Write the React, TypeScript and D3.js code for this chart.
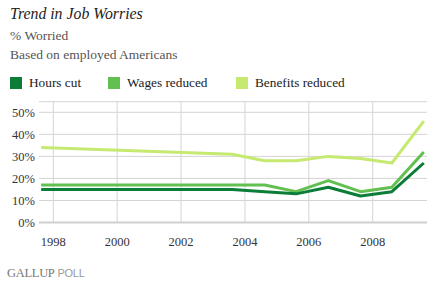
import * as d3 from "d3";

const pollDates = [1997.62, 2003.6, 2004.62, 2005.6, 2006.61, 2007.62, 2008.6, 2009.6];
const hoursCut = [15, 15, 14, 13, 16, 12, 14, 27];
const wagesReduced = [17, 17, 17, 14, 19, 14, 16, 32];
const benefitsReduced = [34, 31, 28, 28, 30, 29, 27, 46];
const yTickValues = [0, 10, 20, 30, 40, 50];
const xTickYears = [1998, 2000, 2002, 2004, 2006, 2008];

const W = 434;
const H = 284;
const PLOT = { left: 39, right: 427, top: 101.7, bottom: 222.5 };

const SERIES = [
  { name: "Hours cut", values: hoursCut, color: "#0b7d38", lx: 10 },
  { name: "Wages reduced", values: wagesReduced, color: "#62c050", lx: 108 },
  { name: "Benefits reduced", values: benefitsReduced, color: "#c6e970", lx: 236 },
];

const serif = "'Liberation Serif', 'DejaVu Serif', serif";

export default function App() {
  const x = d3.scaleLinear().domain([1998, 2008]).range([53.3, 372.7]);
  const y = d3.scaleLinear().domain([0, 50]).range([PLOT.bottom, 112.3]);

  const line = d3
    .line<number>()
    .x((_, i) => x(pollDates[i]))
    .y((d) => y(d));

  return (
    <svg
      width={W}
      height={H}
      style={{ position: "absolute", left: 0, top: 0, background: "#fff" }}
      fontFamily={serif}
    >
      <text x={10} y={19} fontSize={15.8} fontStyle="italic" fill="#222">
        Trend in Job Worries
      </text>
      <text x={10} y={40} fontSize={13.5} fill="#555">
        % Worried
      </text>
      <text x={10} y={59} fontSize={13.5} fill="#555">
        Based on employed Americans
      </text>

      {SERIES.map((s) => (
        <g key={s.name}>
          <rect x={s.lx} y={77} width={12} height={12} fill={s.color} />
          <text x={s.lx + 19} y={86.5} fontSize={13.3} fill="#222">
            {s.name}
          </text>
        </g>
      ))}

      {/* grid */}
      <line x1={PLOT.left} x2={PLOT.right} y1={PLOT.top} y2={PLOT.top} stroke="#d4d4d4" />
      {yTickValues.slice(1).map((t) => (
        <line key={t} x1={PLOT.left} x2={PLOT.right} y1={y(t)} y2={y(t)} stroke="#d4d4d4" />
      ))}
      {xTickYears.map((t) => (
        <line key={t} x1={x(t)} x2={x(t)} y1={PLOT.top} y2={PLOT.bottom} stroke="#d4d4d4" />
      ))}
      <line x1={PLOT.left} x2={PLOT.right} y1={PLOT.bottom} y2={PLOT.bottom} stroke="#cfcfcf" strokeWidth={2} />

      {yTickValues.map((t) => (
        <text key={t} x={35} y={y(t)} dy="0.35em" textAnchor="end" fontSize={12.5} fill="#333">
          {t}%
        </text>
      ))}
      {xTickYears.map((t) => (
        <text key={t} x={x(t)} y={246} textAnchor="middle" fontSize={12.5} fill="#333">
          {t}
        </text>
      ))}

      {[...SERIES].reverse().map((s) => (
        <path
          key={s.name}
          d={line(s.values) ?? undefined}
          fill="none"
          stroke={s.color}
          strokeWidth={3}
          strokeLinejoin="round"
        />
      ))}

      <text x={7} y={277} fontSize={12.5} fill="#777" letterSpacing={-0.3}>
        GALLUP
        <tspan dx={3} fill="#9a9a9a" fontFamily="'Liberation Sans', sans-serif" fontSize={11}>
          POLL
        </tspan>
      </text>
    </svg>
  );
}
